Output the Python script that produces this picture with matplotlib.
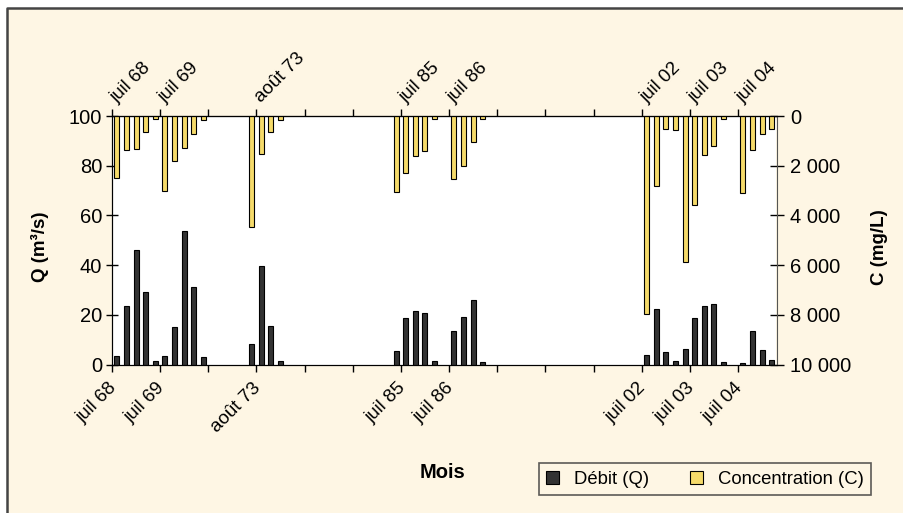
import matplotlib
matplotlib.use("Agg")
import matplotlib.pyplot as plt
import matplotlib.patches as mpatches
from matplotlib.lines import Line2D
from matplotlib.ticker import FuncFormatter
import numpy as np

plt.rcParams['font.family'] = ['Liberation Sans', 'DejaVu Sans']

# Monthly categories (69 slots, blanks where no data shown)
debit_q = [3.5, 23.5, 45.9, 29.1, 1.6, 3.5, 15.1, 53.8, 31.0, 3.2,
           None, None, None, None, 8.2, 39.7, 15.4, 1.3, None, None,
           None, None, None, None, None, None, None, None, None, 5.6,
           18.8, 21.5, 20.6, 1.3, None, 13.4, 19.3, 25.8, 0.9, None,
           None, None, None, None, None, None, None, None, None, None,
           None, None, None, None, None, 4.0, 22.5, 4.9, 1.3, 6.3,
           18.6, 23.7, 24.4, 0.9, None, 0.8, 13.5, 5.8, 1.8]

conc_c = [2480, 1370, 1340, 660, 120, 3010, 1810, 1300, 740, 150,
          None, None, None, None, 4480, 1520, 630, 150, None, None,
          None, None, None, None, None, None, None, None, None, 3050,
          2300, 1610, 1410, 110, None, 2520, 2000, 1050, 110, None,
          None, None, None, None, None, None, None, None, None, None,
          None, None, None, None, None, 7950, 2830, 530, 570, 5860,
          3590, 1550, 1210, 140, None, 3090, 1350, 710, 530]

month_labels = {0: 'juil 68', 5: 'juil 69', 15: 'août 73', 30: 'juil 85',
                35: 'juil 86', 55: 'juil 02', 60: 'juil 03', 65: 'juil 04'}

q_ticks = [0, 20, 40, 60, 80, 100]
c_ticks = [0, 2000, 4000, 6000, 8000, 10000]

cream = '#FEF6E4'
yellow = '#F5DA6A'
dark = '#333333'
fs_tick = 14.5
fs_month = 13.5
fs_leg = 13.3

n = len(debit_q)
x = np.arange(n)
q = np.array([np.nan if v is None else v for v in debit_q])
c = np.array([np.nan if v is None else v for v in conc_c])

fig = plt.figure(figsize=(9.04, 5.13), dpi=100)
fig.patch.set_facecolor('white')
# cream panel with a frame; only the left and top edges fall inside the picture
x0, y0 = 7 / 904, 1 - 8 / 513
fig.patches.append(mpatches.Rectangle((x0, 0), 1 - x0, y0, transform=fig.transFigure,
                                      facecolor=cream, edgecolor='none', zorder=-10))
fig.lines.append(Line2D([x0, x0, 1], [0, y0, y0], transform=fig.transFigure,
                        color='#444444', linewidth=1.8))

ax = fig.add_axes([112 / 904, 1 - 364.5 / 513, 664.5 / 904, 248.5 / 513])
ax.set_facecolor('white')
ax.bar(x, q, width=0.52, color=dark, edgecolor='black', linewidth=0.8, zorder=3)
ax.set_xlim(-0.5, n - 0.5)
ax.set_ylim(0, 100)
ax.set_yticks(q_ticks)
ax.tick_params(axis='y', direction='inout', length=8, width=1, labelsize=fs_tick, pad=3)

ax.set_xticks(np.arange(-0.5, n - 0.5, 5))
ax.set_xticklabels([])
ax.tick_params(axis='x', direction='out', length=5, width=1)
for s in ['left', 'bottom', 'top']:
    ax.spines[s].set_color('black')
ax.spines['right'].set_visible(False)

ax2 = ax.twinx()
ax2.bar(x, c, width=0.52, color=yellow, edgecolor='black', linewidth=0.8, zorder=3)
ax2.set_ylim(10000, 0)
ax2.set_yticks(c_ticks)
ax2.yaxis.set_major_formatter(FuncFormatter(lambda v, p: f'{int(v):,}'.replace(',', ' ')))
ax2.tick_params(axis='y', direction='inout', length=10, width=1, labelsize=fs_tick, pad=5)
ax2.spines['right'].set_color('#555555')
ax2.spines['top'].set_color('black')

ax3 = ax.twiny()
ax3.set_xlim(ax.get_xlim())
ax3.set_xticks(np.arange(-0.5, n - 0.5, 5))
ax3.set_xticklabels([])
ax3.tick_params(axis='x', direction='out', length=5, width=1)
for s in ['left', 'right', 'bottom']:
    ax3.spines[s].set_visible(False)

# axis titles
fig.text(40 / 904, 1 - 247 / 513, 'Q (m³/s)', rotation=90, fontsize=13.5,
         fontweight='bold', ha='center', va='center')
fig.text(880 / 904, 1 - 247 / 513, 'C (mg/L)', rotation=90, fontsize=13.5,
         fontweight='bold', ha='center', va='center')

# month labels, rotated at bottom and top
for i, lab in month_labels.items():
    ax.annotate(lab, xy=(i, 0), xycoords=('data', 'axes fraction'),
                xytext=(-6.5, -11), textcoords='offset points',
                rotation=45, rotation_mode='anchor', ha='right', va='top',
                fontsize=fs_month)
    ax.annotate(lab, xy=(i, 1), xycoords=('data', 'axes fraction'),
                xytext=(2, 7), textcoords='offset points',
                rotation=45, rotation_mode='anchor', ha='left', va='bottom',
                fontsize=fs_month)

fig.text(443 / 904, 1 - 472 / 513, 'Mois', fontsize=14.5, fontweight='bold',
         ha='center', va='center')

handles = [mpatches.Patch(facecolor=dark, edgecolor='black', linewidth=0.8, label='Débit (Q)'),
           mpatches.Patch(facecolor=yellow, edgecolor='black', linewidth=0.8, label='Concentration (C)')]
leg = fig.legend(handles=handles, loc='center', bbox_to_anchor=(705 / 904, 1 - 479 / 513),
                 ncol=2, fontsize=fs_leg, frameon=True, fancybox=False, handlelength=0.7,
                 handleheight=0.7, handletextpad=0.8, columnspacing=2.2,
                 borderpad=0.4, borderaxespad=0)
leg.get_frame().set_edgecolor('#333333')
leg.get_frame().set_facecolor(cream)
leg.get_frame().set_linewidth(1.2)

fig.savefig('out.png', dpi=100, facecolor=fig.get_facecolor())
